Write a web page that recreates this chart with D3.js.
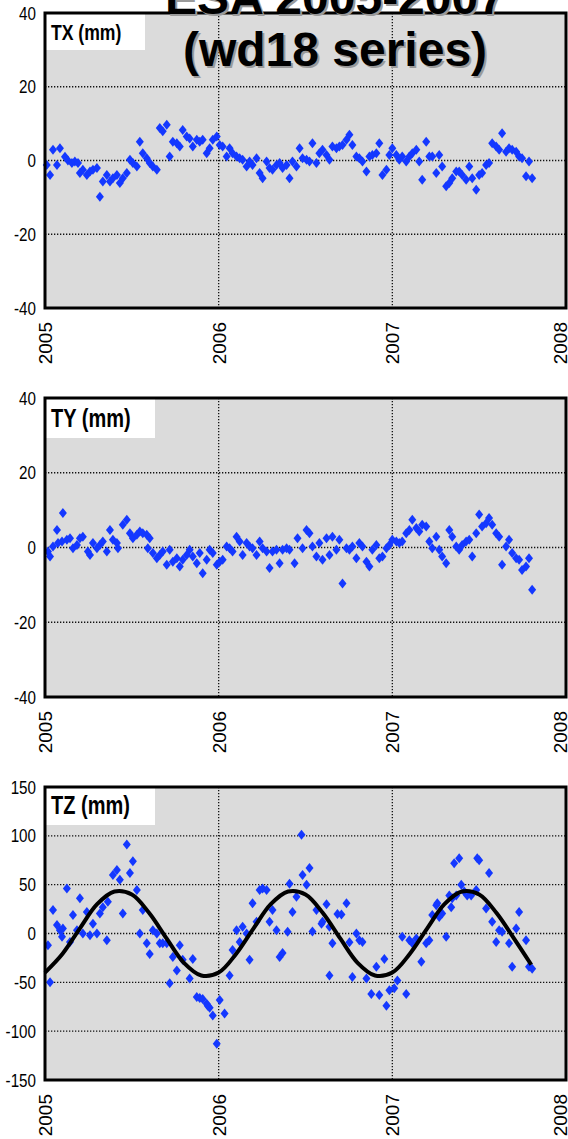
<!DOCTYPE html>
<html>
<head>
<meta charset="utf-8">
<script src="https://cdn.jsdelivr.net/npm/d3@7"></script>
<style>
  body { margin: 0; background: #fff; }
  svg { display: block; }
</style>
</head>
<body>
<svg></svg>
<script>
// tick values
const years = [2005, 2006, 2007, 2008];
const txTicks = [-40, -20, 0, 20, 40];
const tyTicks = [-40, -20, 0, 20, 40];
const tzTicks = [-150, -100, -50, 0, 50, 100, 150];

// weekly translation estimates [decimal year, mm]
const txData = [
  [2005.010,-1.2],[2005.029,-3.9],[2005.046,2.9],[2005.069,-1.2],[2005.086,3.3],[2005.115,1.0],[2005.132,0.0],[2005.155,-0.7],
  [2005.172,-0.3],[2005.190,-0.7],[2005.201,-3.4],[2005.218,-2.5],[2005.241,-3.9],[2005.259,-3.0],[2005.276,-2.5],[2005.299,-2.0],
  [2005.316,-9.8],[2005.333,-5.7],[2005.356,-3.9],[2005.374,-5.7],[2005.391,-4.8],[2005.414,-3.9],[2005.431,-6.1],[2005.448,-4.8],
  [2005.471,-3.4],[2005.489,0.2],[2005.506,-0.7],[2005.529,-1.6],[2005.546,5.1],[2005.563,2.0],[2005.586,0.6],[2005.603,-0.7],
  [2005.621,-1.6],[2005.644,-2.5],[2005.661,8.8],[2005.678,7.9],[2005.701,9.7],[2005.718,1.1],[2005.736,5.1],[2005.759,4.7],
  [2005.776,3.8],[2005.793,8.3],[2005.816,6.5],[2005.833,6.0],[2005.851,3.8],[2005.874,5.6],[2005.891,5.1],[2005.908,5.6],
  [2005.931,2.0],[2005.948,3.3],[2005.966,5.6],[2005.989,6.5],[2006.006,4.2],[2006.023,3.8],[2006.046,1.1],[2006.063,3.3],
  [2006.080,2.0],[2006.103,1.1],[2006.121,0.6],[2006.138,0.2],[2006.161,-1.6],[2006.178,-0.3],[2006.195,-1.2],[2006.218,0.6],
  [2006.236,-3.4],[2006.253,-4.8],[2006.276,-0.3],[2006.293,-2.0],[2006.310,-2.5],[2006.333,-1.2],[2006.351,-0.7],[2006.368,-2.0],
  [2006.391,-1.2],[2006.408,-4.8],[2006.425,-0.3],[2006.448,-1.6],[2006.466,3.3],[2006.483,0.6],[2006.506,0.2],[2006.523,-0.3],
  [2006.540,4.7],[2006.563,-0.7],[2006.580,2.0],[2006.598,2.9],[2006.621,1.5],[2006.638,0.2],[2006.655,3.8],[2006.678,3.3],
  [2006.695,3.8],[2006.713,4.2],[2006.736,5.6],[2006.753,7.0],[2006.770,4.2],[2006.793,1.1],[2006.810,0.6],[2006.828,-0.3],
  [2006.851,-3.0],[2006.868,1.1],[2006.885,1.5],[2006.908,2.0],[2006.925,4.7],[2006.943,-3.9],[2006.966,-2.5],[2006.983,1.5],
  [2007.000,3.3],[2007.023,1.5],[2007.040,0.2],[2007.057,1.1],[2007.080,-0.3],[2007.098,1.1],[2007.115,2.0],[2007.138,2.9],
  [2007.155,-0.3],[2007.172,-5.2],[2007.195,5.1],[2007.213,1.1],[2007.230,1.1],[2007.253,-3.4],[2007.270,1.5],[2007.287,-1.6],
  [2007.310,-7.0],[2007.328,-6.1],[2007.345,-4.8],[2007.368,-3.0],[2007.385,-3.0],[2007.402,-3.9],[2007.425,-5.2],[2007.443,-1.6],
  [2007.460,-4.8],[2007.483,-7.9],[2007.500,-3.9],[2007.517,-3.4],[2007.540,-1.2],[2007.557,-0.7],[2007.575,4.7],[2007.598,3.8],
  [2007.615,2.9],[2007.632,7.4],[2007.655,2.4],[2007.672,3.3],[2007.690,2.9],[2007.713,2.4],[2007.730,1.1],[2007.747,0.6],
  [2007.770,-4.3],[2007.787,-0.3],[2007.805,-4.8]
];

const tyData = [
  [2005.017,-1.1],[2005.029,-2.4],[2005.046,0.3],[2005.069,4.7],[2005.075,1.2],[2005.098,1.6],[2005.103,9.2],[2005.126,2.1],
  [2005.144,2.5],[2005.161,-0.2],[2005.184,0.7],[2005.201,2.5],[2005.218,2.9],[2005.247,-1.1],[2005.259,-2.0],[2005.276,1.2],
  [2005.299,-0.2],[2005.316,0.7],[2005.333,1.6],[2005.356,-1.1],[2005.374,4.7],[2005.391,2.1],[2005.414,1.2],[2005.420,-0.2],
  [2005.448,6.1],[2005.471,7.4],[2005.489,3.8],[2005.506,2.5],[2005.529,3.4],[2005.546,4.3],[2005.563,3.8],[2005.586,3.4],
  [2005.592,-0.2],[2005.603,2.5],[2005.621,-1.5],[2005.644,-2.9],[2005.661,-2.0],[2005.678,-1.1],[2005.701,-4.6],[2005.718,-0.6],
  [2005.736,-3.8],[2005.759,-2.9],[2005.776,-5.1],[2005.793,-3.3],[2005.816,-2.0],[2005.833,-0.6],[2005.851,-2.4],[2005.874,-4.2],
  [2005.891,-1.5],[2005.908,-6.9],[2005.931,-3.3],[2005.948,-0.6],[2005.966,-1.5],[2005.989,-4.6],[2006.006,-3.8],[2006.023,-3.3],
  [2006.046,0.3],[2006.063,-0.2],[2006.080,-1.1],[2006.103,2.9],[2006.121,1.6],[2006.138,-2.0],[2006.161,1.2],[2006.178,0.3],
  [2006.195,-0.2],[2006.218,-2.0],[2006.236,1.6],[2006.253,-0.2],[2006.276,-1.1],[2006.293,-5.5],[2006.310,-1.1],[2006.333,-0.6],
  [2006.351,-4.2],[2006.368,-0.6],[2006.391,-0.2],[2006.408,-0.6],[2006.437,-4.2],[2006.454,2.5],[2006.483,-0.2],[2006.506,4.7],
  [2006.523,3.8],[2006.540,0.3],[2006.563,-2.4],[2006.580,1.2],[2006.598,-3.3],[2006.621,2.5],[2006.638,-2.0],[2006.655,2.9],
  [2006.678,-0.6],[2006.695,2.1],[2006.713,-9.6],[2006.736,-0.2],[2006.753,-0.6],[2006.770,0.3],[2006.793,-2.9],[2006.810,1.2],
  [2006.828,0.3],[2006.851,-3.8],[2006.868,-5.1],[2006.885,-0.6],[2006.908,0.7],[2006.925,-2.9],[2006.943,-2.4],[2006.966,-0.2],
  [2006.983,0.7],[2007.000,2.1],[2007.023,1.6],[2007.040,1.2],[2007.057,1.6],[2007.080,3.8],[2007.098,4.7],[2007.115,7.4],
  [2007.138,5.2],[2007.155,4.3],[2007.172,6.1],[2007.195,5.6],[2007.213,1.6],[2007.230,-0.2],[2007.253,2.9],[2007.270,-0.6],
  [2007.287,-2.4],[2007.310,-4.2],[2007.328,4.7],[2007.345,2.9],[2007.368,0.3],[2007.385,-0.6],[2007.402,0.7],[2007.425,1.6],
  [2007.443,2.1],[2007.460,-2.4],[2007.483,3.8],[2007.500,8.8],[2007.517,5.6],[2007.540,6.5],[2007.557,7.9],[2007.575,6.1],
  [2007.598,3.8],[2007.615,2.9],[2007.632,-4.6],[2007.655,0.3],[2007.672,2.1],[2007.690,-1.5],[2007.713,-2.9],[2007.730,-3.3],
  [2007.747,-6.0],[2007.770,-5.1],[2007.787,-2.9],[2007.805,-11.3]
];

const tzData = [
  [2005.017,-12],[2005.029,-50],[2005.046,24],[2005.069,8.6],[2005.086,3.4],[2005.098,-3.4],[2005.103,5.1],[2005.126,46],
  [2005.144,-8.6],[2005.161,19],[2005.184,3.4],[2005.201,36],[2005.218,0],[2005.241,22],[2005.259,-1.7],[2005.276,10],
  [2005.299,0],[2005.316,20.5],[2005.333,27],[2005.356,-6.8],[2005.362,32.5],[2005.391,60],[2005.414,65],[2005.431,55],
  [2005.448,20.5],[2005.471,91],[2005.489,62],[2005.506,74],[2005.529,44.5],[2005.546,0],[2005.563,24],[2005.586,-10],
  [2005.603,-21],[2005.621,3.4],[2005.644,0],[2005.661,-10],[2005.678,-10],[2005.701,-10],[2005.718,-51],[2005.736,-24],
  [2005.759,-38],[2005.776,-12],[2005.793,-27],[2005.833,-46],[2005.851,-26],[2005.874,-65],[2005.891,-66],[2005.908,-67],
  [2005.931,-72],[2005.937,-74],[2005.948,-76],[2005.966,-84],[2005.989,-113],[2006.006,-68],[2006.034,-82],[2006.063,-43],
  [2006.080,-17],[2006.103,3.4],[2006.121,-8.6],[2006.138,6.8],[2006.161,0],[2006.178,-27],[2006.195,31],[2006.218,12],
  [2006.236,44.5],[2006.253,46],[2006.276,44.5],[2006.293,12],[2006.310,24],[2006.333,3.4],[2006.351,-24],[2006.368,-20],
  [2006.397,1.7],[2006.408,51],[2006.425,22],[2006.448,37.7],[2006.477,101],[2006.483,60],[2006.506,50],[2006.523,67],
  [2006.540,2],[2006.563,24],[2006.592,10],[2006.598,12],[2006.621,30],[2006.638,-43],[2006.638,6.8],[2006.655,-10],
  [2006.684,20],[2006.707,19.5],[2006.736,31],[2006.753,-9],[2006.770,-44.5],[2006.793,0],[2006.810,-7],[2006.828,-8.6],
  [2006.851,-46],[2006.879,-62],[2006.908,-34],[2006.925,-63],[2006.954,-26],[2006.966,-74],[2006.983,-58],[2007.011,-56],
  [2007.029,-48],[2007.057,-3.4],[2007.080,-62],[2007.098,-7],[2007.115,-10],[2007.138,-5],[2007.167,-29],[2007.195,-10],
  [2007.213,-7],[2007.230,19],[2007.253,29],[2007.259,31],[2007.270,17],[2007.287,20.5],[2007.310,-3.4],[2007.328,39],
  [2007.339,27],[2007.345,36],[2007.356,72],[2007.368,39],[2007.385,77],[2007.397,50],[2007.414,43],[2007.431,39],
  [2007.454,39],[2007.483,44.5],[2007.489,77],[2007.500,75],[2007.540,25.7],[2007.557,62],[2007.575,12],[2007.598,-8.6],
  [2007.615,3.4],[2007.632,1.7],[2007.672,-10],[2007.690,-34],[2007.713,5],[2007.730,22],[2007.770,-7],[2007.787,-34],
  [2007.805,-36]
];

// annual signal drawn over TZ
const tzFit = [
  [2005.0,-40],[2005.1,-21],[2005.2,5],[2005.3,30],[2005.4,43],[2005.5,40],[2005.6,21],[2005.7,-5],[2005.8,-30],[2005.9,-43],
  [2006.0,-40],[2006.1,-21],[2006.2,5],[2006.3,30],[2006.4,43],[2006.5,40],[2006.6,21],[2006.7,-5],[2006.8,-30],[2006.9,-43],
  [2007.0,-40],[2007.1,-21],[2007.2,5],[2007.3,30],[2007.4,43],[2007.5,40],[2007.6,21],[2007.7,-5],[2007.8,-32]
];

const svg = d3.select("svg").attr("width", 568).attr("height", 1139);

const left = 45, right = 566;
const x = d3.scaleLinear().domain([2005, 2008]).range([left, right]);

const narrow = 0.8; // squeeze for the condensed tick font

const panels = [
  { name: "TX (mm)", data: txData, ticks: txTicks, top: 13, bottom: 308, boxW: 100, boxH: 37, fs: 22 },
  { name: "TY (mm)", data: tyData, ticks: tyTicks, top: 398, bottom: 697, boxW: 110, boxH: 40, fs: 25 },
  { name: "TZ (mm)", data: tzData, ticks: tzTicks, top: 787, bottom: 1080, boxW: 110, boxH: 38, fs: 25, fit: tzFit }
];

const diamond = "M0,-5L4,0L0,5L-4,0Z";

panels.forEach(p => {
  const y = d3.scaleLinear()
    .domain(d3.extent(p.ticks))
    .range([p.bottom, p.top]);

  const g = svg.append("g");

  g.append("rect")
    .attr("x", left).attr("y", p.top)
    .attr("width", right - left).attr("height", p.bottom - p.top)
    .attr("fill", "#dbdbdb");

  // dotted grid
  g.selectAll(".hgrid")
    .data(p.ticks.slice(1, -1))
    .enter().append("line")
    .attr("x1", left).attr("x2", right)
    .attr("y1", d => y(d)).attr("y2", d => y(d))
    .attr("stroke", "#111").attr("stroke-width", 1.3)
    .attr("stroke-dasharray", "1.3,1.7");

  g.selectAll(".vgrid")
    .data(years.slice(1, -1))
    .enter().append("line")
    .attr("x1", d => x(d)).attr("x2", d => x(d))
    .attr("y1", p.top).attr("y2", p.bottom)
    .attr("stroke", "#111").attr("stroke-width", 1.3)
    .attr("stroke-dasharray", "1.3,1.7");

  g.selectAll(".pt")
    .data(p.data)
    .enter().append("path")
    .attr("d", diamond)
    .attr("transform", d => `translate(${x(d[0])},${y(d[1])})`)
    .attr("fill", "#1438ff");

  if (p.fit) {
    g.append("path")
      .datum(p.fit)
      .attr("fill", "none")
      .attr("stroke", "#000")
      .attr("stroke-width", 4)
      .attr("stroke-linejoin", "round")
      .attr("d", d3.line().x(d => x(d[0])).y(d => y(d[1])).curve(d3.curveCatmullRom));
  }

  // legend box
  g.append("rect")
    .attr("x", left).attr("y", p.top)
    .attr("width", p.boxW).attr("height", p.boxH)
    .attr("fill", "#fff");
  g.append("text")
    .attr("transform", `translate(${left + 6},${p.top + p.boxH * 0.72}) scale(${narrow},1)`)
    .attr("font-family", "'Liberation Sans', Arial, sans-serif")
    .attr("font-weight", "bold")
    .attr("font-size", p.fs)
    .text(p.name);

  // frame
  g.append("rect")
    .attr("x", left).attr("y", p.top)
    .attr("width", right - left).attr("height", p.bottom - p.top)
    .attr("fill", "none").attr("stroke", "#000").attr("stroke-width", 3);

  // axes
  const ay = g.append("g")
    .attr("transform", `translate(${left},0)`)
    .call(d3.axisLeft(y).tickValues(p.ticks).tickSize(0).tickFormat(d => String(d)));
  ay.select(".domain").remove();
  ay.selectAll("text")
    .attr("x", -9 / narrow)
    .attr("transform", `scale(${narrow},1)`)
    .attr("font-family", "'Liberation Sans', Arial, sans-serif")
    .attr("font-size", 19)
    .attr("fill", "#000");

  const ax = g.append("g")
    .attr("transform", `translate(0,${p.bottom})`)
    .call(d3.axisBottom(x).tickValues(years).tickSize(0).tickFormat(d => String(d)));
  ax.select(".domain").remove();
  ax.selectAll("text")
    .attr("transform", "rotate(-90)")
    .attr("text-anchor", "end")
    .attr("x", -14).attr("y", 0)
    // last label sits on the page edge; nudge it inside
    .attr("dy", d => d === 2008 ? "0.05em" : "0.35em")
    .attr("font-family", "'Liberation Sans', Arial, sans-serif")
    .attr("font-size", 19)
    .attr("fill", "#000");
});

// title, drawn over the top panel
const titleLines = ["ESA 2005-2007", "(wd18 series)"];
const title = svg.append("g")
  .attr("font-family", "'Liberation Sans', Arial, sans-serif")
  .attr("font-weight", "bold")
  .attr("font-size", 48)
  .attr("text-anchor", "middle");
titleLines.forEach((t, i) => {
  title.append("text")
    .attr("x", 335).attr("y", 14 + i * 52)
    .attr("fill", "#9a9a9a")
    .attr("transform", "translate(2,2)")
    .text(t);
  title.append("text")
    .attr("x", 335).attr("y", 14 + i * 52)
    .attr("fill", "#000")
    .text(t);
});
</script>
</body>
</html>
